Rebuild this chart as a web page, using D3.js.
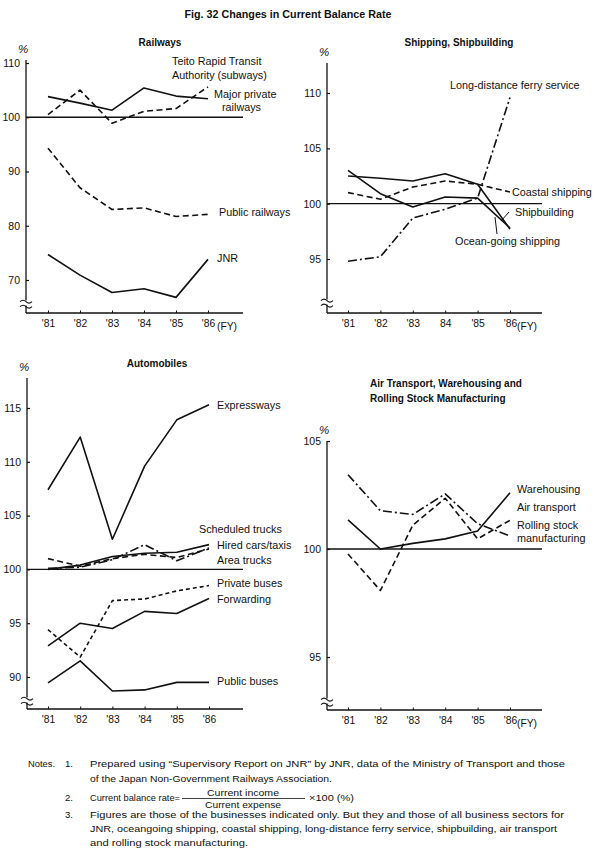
<!DOCTYPE html>
<html><head><meta charset="utf-8">
<script src="https://cdn.jsdelivr.net/npm/d3@7"></script>
<style>
body{margin:0;background:#fff;}
svg text{font-family:"Liberation Sans",Arial,sans-serif;fill:#111;}
</style></head>
<body><svg id="c" width="600" height="866"></svg>
<script>
// ---- data ----
const years = ["'81","'82","'83","'84","'85","'86"];
// Railways
const teito = [100.5,105.0,98.9,101.1,101.6,105.6];
const majorPrivate = [103.8,102.6,101.3,105.4,103.9,103.4];
const publicRailways = [94.3,87.0,83.0,83.3,81.7,82.1];
const jnr = [74.7,70.9,67.7,68.4,66.8,73.8];
const railTicks = [70,80,90,100,110];
// Shipping, shipbuilding
const ferry = [94.8,95.2,98.7,99.5,100.5,109.6];
const coastal = [101.0,100.4,101.5,102.05,101.75,101.05];
const shipbuilding = [102.5,102.3,102.05,102.7,101.75,97.7];
const oceanGoing = [103.0,100.9,99.7,100.6,100.5,97.8];
const shipTicks = [95,100,105,110];
// Automobiles
const expressways = [107.4,112.3,102.8,109.6,113.9,115.3];
const scheduledTrucks = [100.0,100.4,101.2,101.5,101.6,102.3];
const hiredCars = [101.0,100.3,101.0,101.4,101.1,101.9];
const areaTrucks = [100.1,100.2,100.9,102.3,100.8,102.0];
const privateBuses = [94.4,91.85,97.1,97.25,98.0,98.5];
const forwarding = [92.9,95.0,94.5,96.1,95.9,97.3];
const publicBuses = [89.45,91.5,88.7,88.8,89.5,89.5];
const autoTicks = [90,95,100,105,110,115];
// Air transport, warehousing, rolling stock
const warehousing = [101.35,100.0,100.26,100.47,100.83,102.6];
const airTransport = [99.77,98.08,101.1,102.35,100.47,101.33];
const rollingStock = [103.44,101.77,101.6,102.55,101.17,100.6];
const airTicks = [95,100,105];

const svg = d3.select("#c");
const INK = "#111";
const DASH = "6,3.5", DASHDOT = "9,3,2,3", FINEDASH = "4,3";
const LABEL = 10.8;

svg.append("text").attr("x",288).attr("y",18).attr("text-anchor","middle")
  .attr("font-size",10.5).attr("font-weight","bold")
  .attr("textLength",207).attr("lengthAdjust","spacingAndGlyphs")
  .text("Fig. 32  Changes in Current Balance Rate");

function panel(o){
  const g = svg.append("g");
  const x = d3.scalePoint().domain(years).range(o.xr);
  const y = d3.scaleLinear().domain(o.yd).range(o.yr);
  const ax = o.axisX;
  g.append("line").attr("x1",ax).attr("x2",ax).attr("y1",o.axTop).attr("y2",o.axBot)
    .attr("stroke",INK).attr("stroke-width",1.3);
  const ya = d3.axisLeft(y).tickValues(o.ticks).tickSize(-3).tickPadding(6).tickFormat(d3.format("d"));
  const yg = g.append("g").attr("transform",`translate(${ax},0)`).call(ya);
  yg.select(".domain").remove();
  yg.selectAll("line").attr("stroke",INK).attr("stroke-width",1.2);
  yg.selectAll("text").attr("font-size",10.5).attr("fill",INK);
  g.append("text").attr("x",ax-8).attr("y",o.axTop-7).attr("font-size",11.5).attr("font-style","italic").text("%");
  g.append("line").attr("x1",ax).attr("x2",o.xEnd).attr("y1",o.axBot).attr("y2",o.axBot)
    .attr("stroke",INK).attr("stroke-width",1.3);
  const xa = d3.axisBottom(x).tickSize(-2.5).tickPadding(7).tickFormat((d,i)=>o.xlabels? o.xlabels[i]:d);
  const xg = g.append("g").attr("transform",`translate(0,${o.axBot})`).call(xa);
  xg.select(".domain").remove();
  xg.selectAll("line").attr("stroke",INK);
  xg.selectAll("text").attr("font-size",10.3).attr("fill",INK);
  if(o.fy){
    g.append("text").attr("x",x("'86")+o.fy).attr("y",o.axBot+17).attr("font-size",10.3).text("(FY)");
  }
  g.append("line").attr("x1",ax).attr("x2",o.xEnd).attr("y1",y(100)).attr("y2",y(100))
    .attr("stroke",INK).attr("stroke-width",1.3);
  const by = o.breakY;
  g.append("rect").attr("x",ax-2).attr("y",by-2.5).attr("width",4).attr("height",5).attr("fill","#fff");
  [-2.5,2.5].forEach(dy=>{
    g.append("path").attr("d",`M${ax-6},${by+dy+1.2} q3,-3 6,0 q3,3 6,0`)
      .attr("fill","none").attr("stroke",INK).attr("stroke-width",1.1);
  });
  (o.title||[]).forEach(t=>{
    g.append("text").attr("x",t.x).attr("y",t.y).attr("text-anchor",t.anchor||"middle")
      .attr("font-size",10).attr("font-weight","bold").text(t.text);
  });
  const line = d3.line().x((d,i)=>x(years[i])).y(d=>y(d));
  o.series.forEach(s=>{
    g.append("path").datum(s.values).attr("d",line).attr("fill","none").attr("stroke",INK)
      .attr("stroke-width",s.w||1.6).attr("stroke-dasharray",s.dash||null).attr("stroke-linejoin","round");
  });
  (o.labels||[]).forEach(l=>{
    g.append("text").attr("x",l.x).attr("y",l.y).attr("font-size",LABEL).text(l.text);
  });
  (o.pointers||[]).forEach(p=>{
    g.append("line").attr("x1",p[0]).attr("y1",p[1]).attr("x2",p[2]).attr("y2",p[3])
      .attr("stroke",INK).attr("stroke-width",1);
  });
  return {x,y};
}

// Railways
panel({
  axisX:26, xr:[48,208], xEnd:243, yd:[70,110], yr:[280,63], axTop:60, axBot:313,
  ticks:railTicks, breakY:303, fy:9,
  title:[{x:160,y:46,text:"Railways"}],
  series:[
    {values:majorPrivate},
    {values:teito,dash:DASH},
    {values:publicRailways,dash:DASH},
    {values:jnr}
  ],
  labels:[
    {x:172,y:65,text:"Teito Rapid Transit"},
    {x:172,y:79,text:"Authority (subways)"},
    {x:214,y:98,text:"Major private"},
    {x:222,y:111,text:"railways"},
    {x:219,y:216,text:"Public railways"},
    {x:217,y:262,text:"JNR"}
  ]
});

// Shipping
panel({
  axisX:327, xr:[348,510], xEnd:542, yd:[95,110], yr:[259,93], axTop:63, axBot:313,
  ticks:shipTicks, breakY:302, fy:7,
  xlabels:["'81","'82","'83","84","'85","'86"],
  title:[{x:459,y:46,text:"Shipping, Shipbuilding"}],
  series:[
    {values:shipbuilding},
    {values:oceanGoing},
    {values:coastal,dash:DASH},
    {values:ferry,dash:DASHDOT}
  ],
  labels:[
    {x:450,y:89,text:"Long-distance ferry service"},
    {x:512,y:196,text:"Coastal shipping"},
    {x:515,y:216,text:"Shipbuilding"},
    {x:455,y:245,text:"Ocean-going shipping"}
  ],
  pointers:[[501,221,509,212],[495,217,497,234]]
});

// Automobiles
panel({
  axisX:27, xr:[48,209], xEnd:243, yd:[90,115], yr:[677,408], axTop:378, axBot:709,
  ticks:autoTicks, breakY:700,
  title:[{x:157,y:367,text:"Automobiles"}],
  series:[
    {values:expressways},
    {values:scheduledTrucks},
    {values:hiredCars,dash:DASH},
    {values:areaTrucks,dash:DASHDOT},
    {values:privateBuses,dash:FINEDASH},
    {values:forwarding},
    {values:publicBuses}
  ],
  labels:[
    {x:217,y:409,text:"Expressways"},
    {x:199,y:533,text:"Scheduled trucks"},
    {x:217,y:549,text:"Hired cars/taxis"},
    {x:217,y:564,text:"Area trucks"},
    {x:217,y:587,text:"Private buses"},
    {x:217,y:603,text:"Forwarding"},
    {x:217,y:685,text:"Public buses"}
  ]
});

// Air transport
panel({
  axisX:327, xr:[348,510], xEnd:542, yd:[95,105], yr:[657,441], axTop:441, axBot:710,
  ticks:airTicks, breakY:701, fy:7,
  title:[{x:370,y:387,text:"Air Transport, Warehousing and",anchor:"start"},
         {x:370,y:402,text:"Rolling Stock Manufacturing",anchor:"start"}],
  series:[
    {values:warehousing},
    {values:airTransport,dash:DASH},
    {values:rollingStock,dash:DASHDOT}
  ],
  labels:[
    {x:517,y:493,text:"Warehousing"},
    {x:517,y:511,text:"Air transport"},
    {x:517,y:529,text:"Rolling stock"},
    {x:517,y:542,text:"manufacturing"}
  ]
});

// Notes
const notes = svg.append("g");
function nt(x,y,t,len,anchor,fs){
  const e = notes.append("text").attr("x",x).attr("y",y).attr("font-size",fs||9.6).text(t);
  if(anchor) e.attr("text-anchor",anchor);
  if(len) e.attr("textLength",len).attr("lengthAdjust","spacingAndGlyphs");
  return e;
}
nt(28,767,"Notes.",27);
nt(65,767,"1.");
nt(90,767,"Prepared using \u201cSupervisory Report on JNR\u201d by JNR, data of the Ministry of Transport and those",475);
nt(90,782,"of the Japan Non-Government Railways Association.",242);
nt(65,801,"2.");
nt(90,801,"Current balance rate=",90);
nt(243,796,"Current income",72,"middle",8.8);
nt(243,807.5,"Current expense",76,"middle",8.8);
notes.append("line").attr("x1",182).attr("x2",305).attr("y1",798.5).attr("y2",798.5).attr("stroke",INK).attr("stroke-width",0.8);
nt(309,801,"\u00d7100 (%)",45);
nt(65,818,"3.");
nt(90,818,"Figures are those of the businesses indicated only. But they and those of all business sectors for",474);
nt(90,832,"JNR, oceangoing shipping, coastal shipping, long-distance ferry service, shipbuilding, air transport",467);
nt(90,846,"and rolling stock manufacturing.",158);
</script></body></html>
